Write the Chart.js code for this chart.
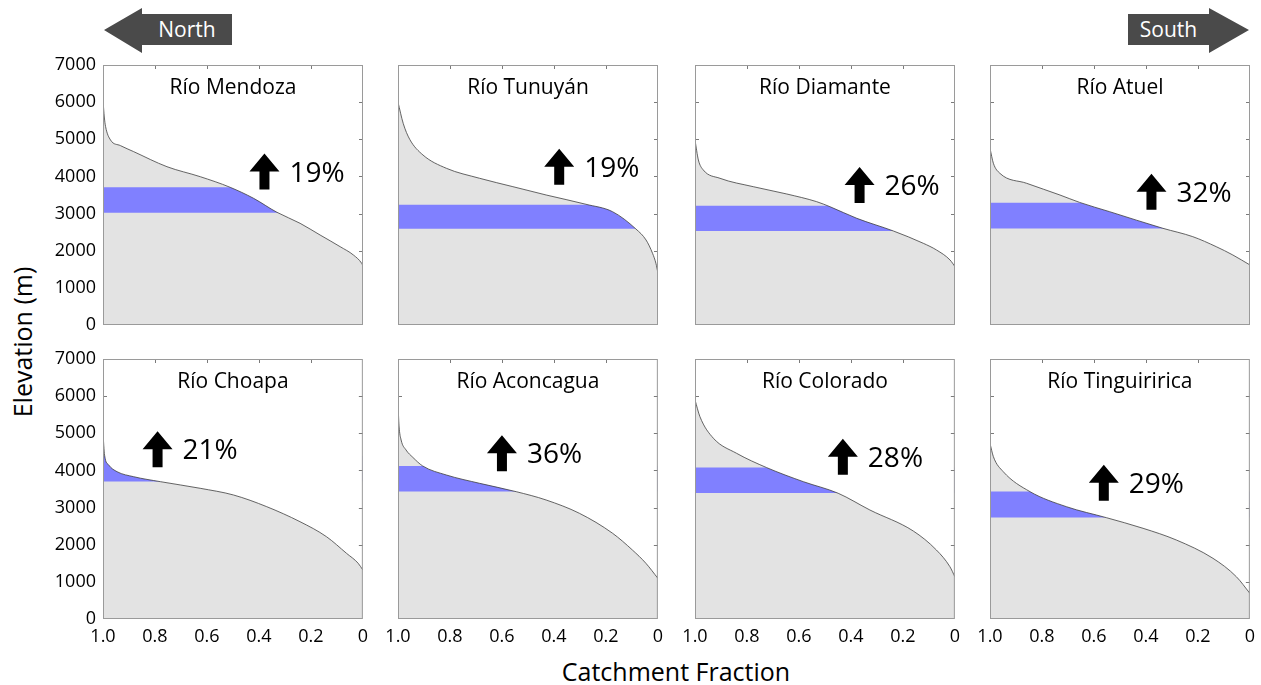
<!DOCTYPE html>
<html>
<head>
<meta charset="utf-8">
<script src="https://cdn.jsdelivr.net/npm/chart.js@4.4.1/dist/chart.umd.min.js"></script>
<style>
  body {
    margin: 0;
    width: 1261px;
    height: 685px;
    position: relative;
    overflow: hidden;
    background: #fff;
    font-family: 'Open Sans', sans-serif;
  }
  canvas.panel { position: absolute; }
  .dir {
    position: absolute;
    top: 8px;
    height: 45px;
    background: #4a4a4a;
    color: #fff;
    font-size: 21px;
  }
  .dir span {
    position: absolute;
    top: 6px;
    height: 31px;
    line-height: 31px;
    text-align: center;
  }
  #north {
    left: 104px;
    width: 128px;
    clip-path: polygon(0 22px, 38px 0, 38px 6px, 128px 6px, 128px 37px, 38px 37px, 38px 45px);
  }
  #north span { left: 38px; width: 90px; }
  #south {
    left: 1128px;
    width: 121px;
    clip-path: polygon(0 6px, 81px 6px, 81px 0, 121px 22px, 81px 45px, 81px 37px, 0 37px);
  }
  #south span { left: 0; width: 81px; }
  .axis-title {
    position: absolute;
    font-size: 25px;
    color: #000;
    white-space: nowrap;
  }
  #ytitle {
    left: 22px;
    top: 342px;
    transform: translate(-50%, -50%) rotate(-90deg);
  }
  #xtitle {
    left: 676px;
    top: 671px;
    transform: translate(-50%, -50%);
  }
</style>
</head>
<body>
<div class="dir" id="north"><span>North</span></div>
<div class="dir" id="south"><span>South</span></div>
<div class="axis-title" id="ytitle">Elevation (m)</div>
<div class="axis-title" id="xtitle">Catchment Fraction</div>

<script>
const rivers = ['Río Mendoza', 'Río Tunuyán', 'Río Diamante', 'Río Atuel',
                'Río Choapa', 'Río Aconcagua', 'Río Colorado', 'Río Tinguiririca'];
const increase = ['19%', '19%', '26%', '32%', '21%', '36%', '28%', '29%'];

// elevation band (m) shaded in blue
const bandLow  = [3020, 2590, 2530, 2600, 3700, 3430, 3390, 2730];
const bandHigh = [3710, 3240, 3210, 3290, 4390, 4120, 4080, 3430];

// arrow anchor for each panel, [fraction, elevation]
const arrowAt = [[0.379, 4130], [0.380, 4260], [0.367, 3770], [0.379, 3590],
                 [0.790, 4570], [0.600, 4460], [0.431, 4370], [0.562, 3670]];

const xTicks = [1.0, 0.8, 0.6, 0.4, 0.2, 0];
const yTicks = [0, 1000, 2000, 3000, 4000, 5000, 6000, 7000];

// hypsometric curves, [catchment fraction, elevation m]
const mendoza = [[1.0, 6060], [0.995, 5600], [0.99, 5340], [0.971, 4980], [0.933, 4830],
    [0.882, 4667], [0.754, 4262], [0.626, 3993], [0.511, 3707], [0.421, 3411],
    [0.331, 3034], [0.242, 2738], [0.165, 2423], [0.088, 2109], [0.037, 1885],
    [0.005, 1661], [0, 1590]];
const tunuyan = [[1.0, 6000], [0.98, 5430], [0.955, 5000], [0.904, 4577], [0.814, 4219],
    [0.686, 3950], [0.558, 3724], [0.43, 3500], [0.277, 3250], [0.175, 3051],
    [0.085, 2585], [0.046, 2289], [0.021, 1930], [0.008, 1661], [0, 1392]];
const diamante = [[1.0, 4980], [0.987, 4443], [0.968, 4173], [0.904, 3950], [0.776, 3724],
    [0.647, 3527], [0.532, 3320], [0.481, 3185], [0.378, 2873], [0.237, 2531],
    [0.122, 2200], [0.071, 2019], [0.019, 1750], [0, 1570]];
const atuel = [[1.0, 4757], [0.987, 4354], [0.962, 4084], [0.859, 3815], [0.731, 3500],
    [0.655, 3300], [0.54, 3051], [0.335, 2603], [0.22, 2378], [0.13, 2109],
    [0.066, 1885], [0, 1615]];
const choapa = [[1.0, 5000], [0.994, 4416], [0.978, 4146], [0.946, 3966], [0.882, 3831],
    [0.779, 3697], [0.626, 3519], [0.498, 3339], [0.37, 3024], [0.242, 2620],
    [0.14, 2216], [0.063, 1769], [0.018, 1500], [0, 1320]];
const aconcagua = [[1.0, 5800], [0.996, 5200], [0.988, 4820], [0.969, 4550], [0.943, 4353],
    [0.905, 4120], [0.814, 3877], [0.686, 3653], [0.545, 3428], [0.43, 3204],
    [0.302, 2846], [0.174, 2307], [0.098, 1858], [0.046, 1500], [0, 1096]];
const colorado = [[1.0, 5900], [0.981, 5447], [0.929, 4865], [0.84, 4461], [0.724, 4075],
    [0.583, 3697], [0.449, 3385], [0.327, 2935], [0.16, 2369], [0.071, 1858],
    [0.019, 1408], [0, 1139]];
const tinguiririca = [[1.0, 4730], [0.987, 4370], [0.949, 3966], [0.846, 3428], [0.706, 3024],
    [0.552, 2728], [0.411, 2442], [0.283, 2127], [0.142, 1634], [0.052, 1139], [0, 692]];

const curves = [mendoza, tunuyan, diamante, atuel, choapa, aconcagua, colorado, tinguiririca];

// page layout
const colLeft = [103, 398, 695, 990];
const rowTop = [65, 359];
const plotW = 260, plotH = 260;
// padT must be bigger than half a tick label + tick padding, or the plot shrinks
const padL = 70, padR = 12, padT = 20, padB = 40;

Chart.defaults.font.family = "'Open Sans', sans-serif";
Chart.defaults.color = '#000';

// frame, inward ticks, panel title and the arrow label
const panelDecor = {
    id: 'panelDecor',
    afterDraw(chart, args, opts) {
        const ctx = chart.ctx;
        const a = chart.chartArea;
        const x = chart.scales.x, y = chart.scales.y;
        ctx.save();

        ctx.strokeStyle = '#7a7a7a';
        ctx.lineWidth = 1;
        ctx.beginPath();
        xTicks.forEach(v => {
            if (v > 0 && v < 1) {
                let px = Math.round(x.getPixelForValue(v)) + 0.5;
                ctx.moveTo(px, a.top);
                ctx.lineTo(px, a.top + 4);
            }
        });
        yTicks.forEach(v => {
            if (v > 0 && v < 7000) {
                let py = Math.round(y.getPixelForValue(v)) + 0.5;
                // NOTE: ticks under the grey fill are not visible in the figure
                if (v > opts.endElev) {
                    ctx.moveTo(a.right, py);
                    ctx.lineTo(a.right - 4, py);
                }
                if (v > opts.startElev) {
                    ctx.moveTo(a.left, py);
                    ctx.lineTo(a.left + 4, py);
                }
            }
        });
        ctx.stroke();

        ctx.strokeStyle = '#9a9a9a';
        ctx.strokeRect(a.left + 0.5, a.top + 0.5, a.width - 1, a.height - 1);

        ctx.fillStyle = '#000';
        ctx.font = "21px 'Open Sans'";
        ctx.textAlign = 'center';
        ctx.textBaseline = 'alphabetic';
        ctx.fillText(opts.title, (a.left + a.right) / 2, a.top + 29);

        let cx = x.getPixelForValue(opts.arrow[0]);
        let cy = y.getPixelForValue(opts.arrow[1]);
        ctx.beginPath();
        ctx.moveTo(cx, cy - 18);
        ctx.lineTo(cx + 15, cy);
        ctx.lineTo(cx + 5, cy);
        ctx.lineTo(cx + 5, cy + 18);
        ctx.lineTo(cx - 5, cy + 18);
        ctx.lineTo(cx - 5, cy);
        ctx.lineTo(cx - 15, cy);
        ctx.closePath();
        ctx.fill();

        ctx.font = "28px 'Open Sans'";
        ctx.textAlign = 'left';
        ctx.fillText(opts.pct, cx + 25, cy + 10);
        ctx.restore();
    }
};

function makePanel(i) {
    const col = i % 4, row = Math.floor(i / 4);
    let canvas = document.createElement('canvas');
    canvas.className = 'panel';
    canvas.width = plotW + padL + padR;
    canvas.height = plotH + padT + padB;
    canvas.style.left = (colLeft[col] - padL) + 'px';
    canvas.style.top = (rowTop[row] - padT) + 'px';
    document.body.appendChild(canvas);

    const pts = curves[i].map(p => ({ x: p[0], y: p[1] }));
    const band = [{ x: 1, y: bandHigh[i] }, { x: 0, y: bandHigh[i] }];

    return new Chart(canvas, {
        type: 'line',
        data: {
            datasets: [
                {
                    // white above the curve trims the blue band to the curve
                    data: pts,
                    borderColor: '#3c3c3c',
                    borderWidth: 0.8,
                    backgroundColor: '#ffffff',
                    fill: 'end',
                    pointRadius: 0,
                    cubicInterpolationMode: 'monotone'
                },
                {
                    data: band,
                    borderWidth: 0,
                    backgroundColor: 'rgb(128, 128, 255)',
                    fill: { value: bandLow[i] },
                    pointRadius: 0
                },
                {
                    data: pts,
                    borderWidth: 0,
                    backgroundColor: 'rgb(227, 227, 227)',
                    fill: 'origin',
                    pointRadius: 0,
                    cubicInterpolationMode: 'monotone'
                }
            ]
        },
        options: {
            responsive: false,
            animation: false,
            events: [],
            devicePixelRatio: 1,
            layout: {
                padding: { top: padT, right: padR, left: 0, bottom: 0 }
            },
            scales: {
                x: {
                    type: 'linear',
                    min: 0,
                    max: 1,
                    reverse: true,
                    grid: { display: false, drawTicks: false },
                    border: { display: false },
                    afterBuildTicks: s => { s.ticks = xTicks.map(v => ({ value: v })); },
                    afterFit: s => { s.height = padB; },
                    ticks: {
                        display: row == 1,
                        autoSkip: false,
                        maxRotation: 0,
                        padding: 7,
                        font: { size: 18 },
                        callback: v => (v == 0 ? '0' : v.toFixed(1))
                    }
                },
                y: {
                    min: 0,
                    max: 7000,
                    grid: { display: false, drawTicks: false },
                    border: { display: false },
                    afterBuildTicks: s => { s.ticks = yTicks.map(v => ({ value: v })); },
                    afterFit: s => { s.width = padL; },
                    ticks: {
                        display: col == 0,
                        autoSkip: false,
                        padding: 7,
                        font: { size: 18 },
                        callback: v => String(v)
                    }
                }
            },
            plugins: {
                legend: { display: false },
                tooltip: { enabled: false },
                panelDecor: {
                    title: rivers[i],
                    pct: increase[i],
                    arrow: arrowAt[i],
                    startElev: curves[i][0][1],
                    endElev: curves[i][curves[i].length - 1][1]
                }
            }
        },
        plugins: [panelDecor]
    });
}

for (let i = 0; i < rivers.length; i++) {
    makePanel(i);
}
</script>
</body>
</html>
